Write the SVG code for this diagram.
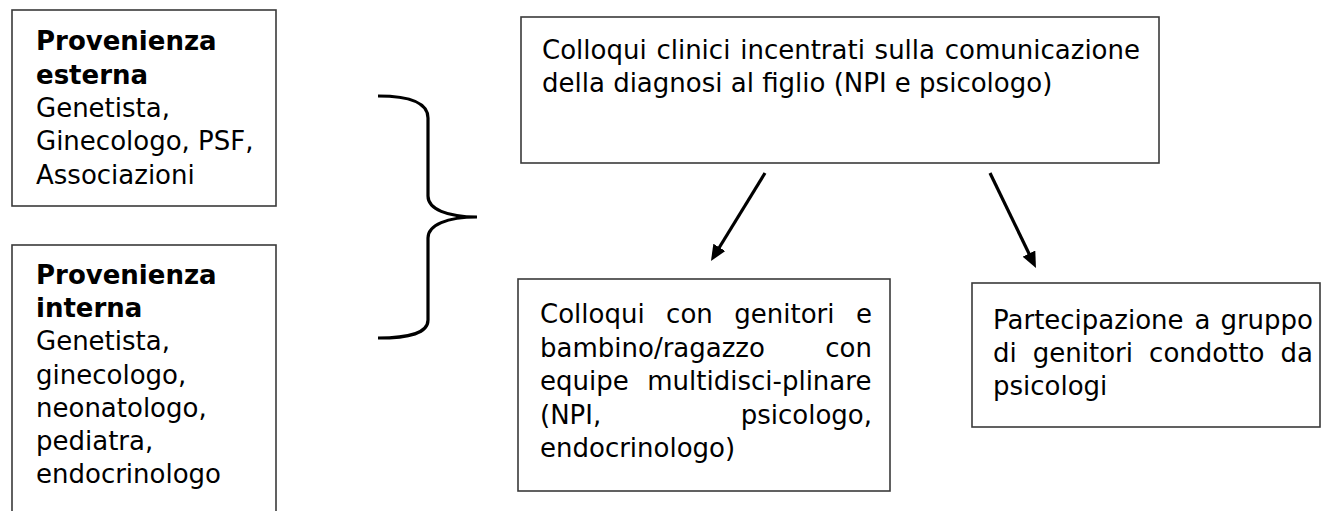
<svg xmlns="http://www.w3.org/2000/svg" width="1324" height="511" viewBox="0 0 1324 511">
<style>
.box{fill:#fff;stroke:#3a3a3a;stroke-width:1.6}
.t{font-family:"DejaVu Sans",Verdana,sans-serif;font-size:26px;fill:#000}
.b{font-weight:bold}
.conn{fill:none;stroke:#000;stroke-width:3.2}
</style>
<defs>
<marker id="ah" markerUnits="userSpaceOnUse" viewBox="0 0 16 14" refX="6" refY="7" markerWidth="16" markerHeight="14" orient="auto">
<path d="M0,0 L16,7 L0,14 z" fill="#000"/>
</marker>
</defs>
<g id="esterna">
<rect class="box" x="12" y="10" width="264" height="196"/>
<text class="t"><tspan class="b" x="36" y="50">Provenienza</tspan><tspan class="b" x="36" y="84">esterna</tspan><tspan x="36" y="117">Genetista,</tspan><tspan x="36" y="150">Ginecologo, PSF,</tspan><tspan x="36" y="184">Associazioni</tspan></text>
</g>
<g id="interna">
<rect class="box" x="12" y="245" width="264" height="300"/>
<text class="t"><tspan class="b" x="36" y="284">Provenienza</tspan><tspan class="b" x="36" y="317">interna</tspan><tspan x="36" y="350">Genetista,</tspan><tspan x="36" y="384">ginecologo,</tspan><tspan x="36" y="417">neonatologo,</tspan><tspan x="36" y="450">pediatra,</tspan><tspan x="36" y="483">endocrinologo</tspan></text>
</g>
<g id="colloqui-clinici">
<rect class="box" x="521" y="17" width="638" height="146"/>
<text class="t"><tspan x="542" y="59">Colloqui</tspan><tspan x="656.4" y="59">clinici</tspan><tspan x="740.2" y="59">incentrati</tspan><tspan x="874.6" y="59">sulla</tspan><tspan x="944.8" y="59">comunicazione</tspan><tspan x="542" y="92">della diagnosi al figlio (NPI e psicologo)</tspan></text>
</g>
<g id="colloqui-genitori">
<rect class="box" x="518" y="279" width="372" height="212"/>
<text class="t"><tspan x="540" y="323">Colloqui</tspan><tspan x="666.1" y="323">con</tspan><tspan x="734.3" y="323">genitori</tspan><tspan x="856" y="323">e</tspan><tspan x="540" y="356.5">bambino/ragazzo</tspan><tspan x="825.3" y="356.5">con</tspan><tspan x="540" y="390">equipe</tspan><tspan x="647.3" y="390">multidisci-plinare</tspan><tspan x="540" y="423.5">(NPI,</tspan><tspan x="740.7" y="423.5">psicologo,</tspan><tspan x="540" y="457">endocrinologo)</tspan></text>
</g>
<g id="gruppo-genitori">
<rect class="box" x="972" y="283" width="348" height="144"/>
<text class="t"><tspan x="993" y="329">Partecipazione</tspan><tspan x="1194.6" y="329">a</tspan><tspan x="1220.4" y="329">gruppo</tspan><tspan x="993" y="362">di</tspan><tspan x="1032.8" y="362">genitori</tspan><tspan x="1149.1" y="362">condotto</tspan><tspan x="1280.6" y="362">da</tspan><tspan x="993" y="395">psicologi</tspan></text>
</g>
<g id="connectors">
<path class="conn" d="M378,96 C410,96 428,103 428,118 L428,196 C428,209 447,217 477,217 C447,217 428,225 428,238 L428,320 C428,333 410,338 378,338"/>
<line class="conn" x1="765" y1="173" x2="716.2" y2="252.5" marker-end="url(#ah)"/>
<line class="conn" x1="990" y1="173" x2="1031.6" y2="259" marker-end="url(#ah)"/>
</g>
</svg>
